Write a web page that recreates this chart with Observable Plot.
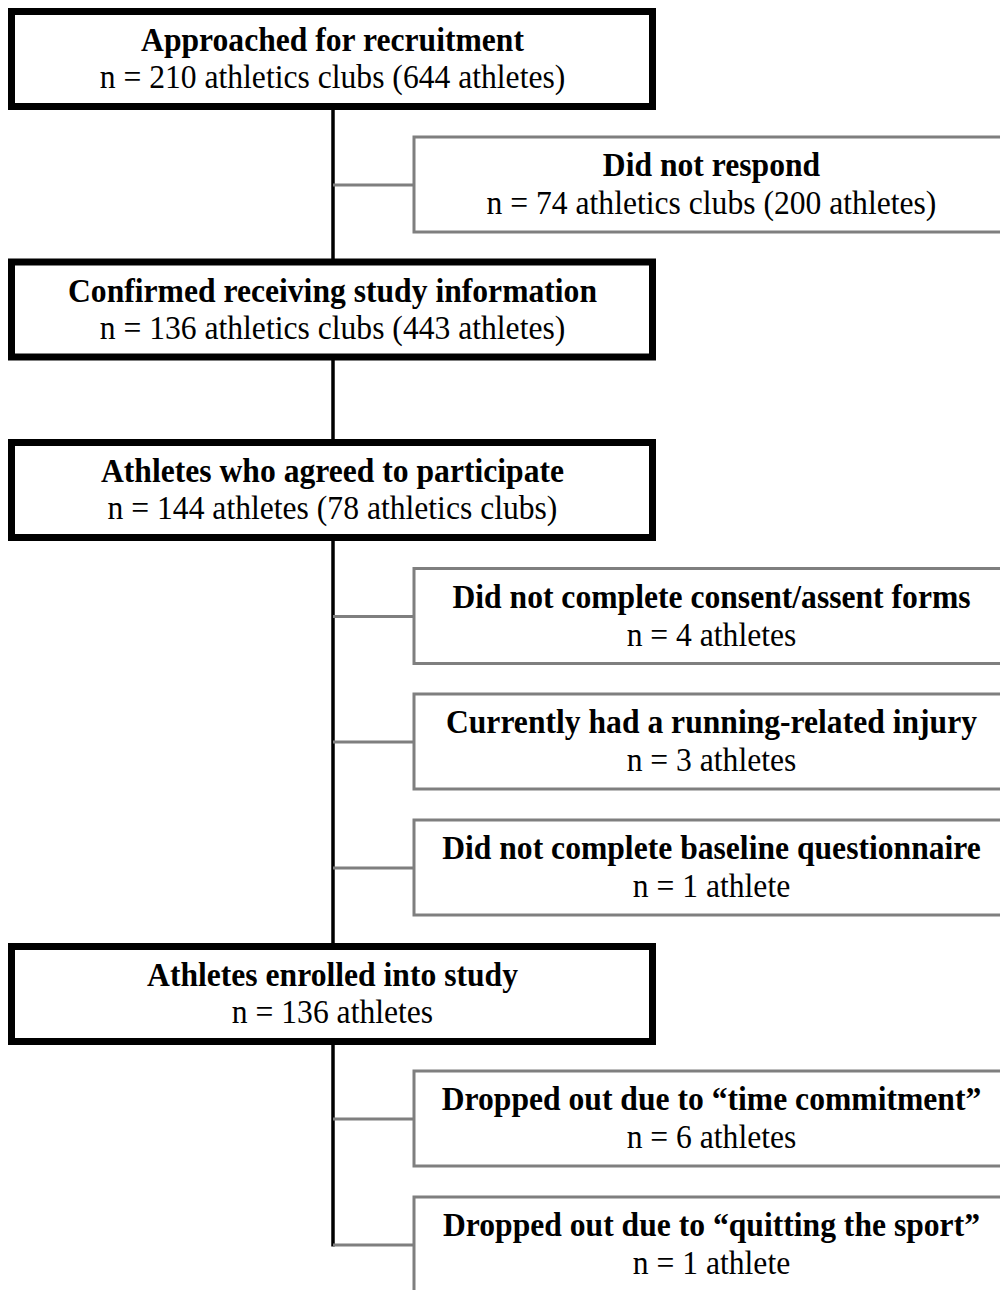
<!DOCTYPE html>
<html><head><meta charset="utf-8">
<script src="https://cdn.jsdelivr.net/npm/d3@7"></script>
<script src="https://cdn.jsdelivr.net/npm/@observablehq/plot@0.6"></script>
<style>html,body{margin:0;padding:0;background:#fff;overflow:hidden}</style>
</head><body><div id="chart"></div>
<script>
// Main flow stages
const mainTitles = [
  "Approached for recruitment",
  "Confirmed receiving study information",
  "Athletes who agreed to participate",
  "Athletes enrolled into study"
];
const mainCounts = [
  "n = 210 athletics clubs (644 athletes)",
  "n = 136 athletics clubs (443 athletes)",
  "n = 144 athletes (78 athletics clubs)",
  "n = 136 athletes"
];
const mainRows = [59, 309.5, 490, 994];

// Side (exclusion) boxes
const sideTitles = [
  "Did not respond",
  "Did not complete consent/assent forms",
  "Currently had a running-related injury",
  "Did not complete baseline questionnaire",
  "Dropped out due to \u201Ctime commitment\u201D",
  "Dropped out due to \u201Cquitting the sport\u201D"
];
const sideCounts = [
  "n = 74 athletics clubs (200 athletes)",
  "n = 4 athletes",
  "n = 3 athletes",
  "n = 1 athlete",
  "n = 6 athletes",
  "n = 1 athlete"
];
const sideRows = [184.5, 616, 741.5, 867.5, 1118.5, 1244.5];

const mainData = mainTitles.map((t, i) => ({title: t, count: mainCounts[i], row: mainRows[i]}));
const sideData = sideTitles.map((t, i) => ({title: t, count: sideCounts[i], row: sideRows[i]}));

const trunkX = 332.5, mainL = 11.5, mainR = 652.5, sideL = 414, sideR = 1010, half = 47.5;
const font = "'Liberation Serif', 'Times New Roman', serif";
const fs = 34;
const squeeze = 0.93;

const chart = Plot.plot({
  width: 1000, height: 1290,
  margin: 0,
  x: {domain: [0, 1000], range: [0, 1000], axis: null},
  y: {domain: [0, 1290], range: [0, 1290], axis: null},
  style: {background: "#fff", fontFamily: font},
  marks: [
    Plot.link([{y1: mainRows[0], y2: sideRows[sideRows.length - 1] + 1.5}], {
      x1: trunkX, x2: trunkX, y1: "y1", y2: "y2", stroke: "#000", strokeWidth: 3.5
    }),
    Plot.link(sideData, {
      x1: trunkX, x2: sideL, y1: "row", y2: "row", stroke: "#7f7f7f", strokeWidth: 3
    }),
    Plot.rect(mainData, {
      x1: mainL, x2: mainR, y1: d => d.row - half, y2: d => d.row + half,
      fill: "#fff", stroke: "#000", strokeWidth: 7, clip: true
    }),
    Plot.rect(sideData, {
      x1: sideL, x2: sideR, y1: d => d.row - half, y2: d => d.row + half,
      fill: "#fff", stroke: "#7f7f7f", strokeWidth: 3, clip: true
    }),
    Plot.text(mainData, {
      x: (mainL + mainR) / 2, y: "row", text: "title", dy: -19,
      fontSize: fs, fontWeight: "bold", fill: "#000", fontFamily: font
    }),
    Plot.text(mainData, {
      x: (mainL + mainR) / 2, y: "row", text: "count", dy: 18,
      fontSize: fs, fill: "#000", fontFamily: font
    }),
    Plot.text(sideData, {
      x: 711, y: "row", text: "title", dy: -19.5,
      fontSize: fs, fontWeight: "bold", fill: "#000", fontFamily: font
    }),
    Plot.text(sideData, {
      x: 711, y: "row", text: "count", dy: 18.5,
      fontSize: fs, fill: "#000", fontFamily: font
    })
  ]
});
// Times-like condensed look: narrow each label around its own anchor
d3.select(chart).selectAll("text").each(function () {
  const t = this.getAttribute("transform") || "";
  this.setAttribute("transform", t + ` scale(${squeeze},1)`);
});
document.getElementById("chart").appendChild(chart);
</script>
</body></html>
